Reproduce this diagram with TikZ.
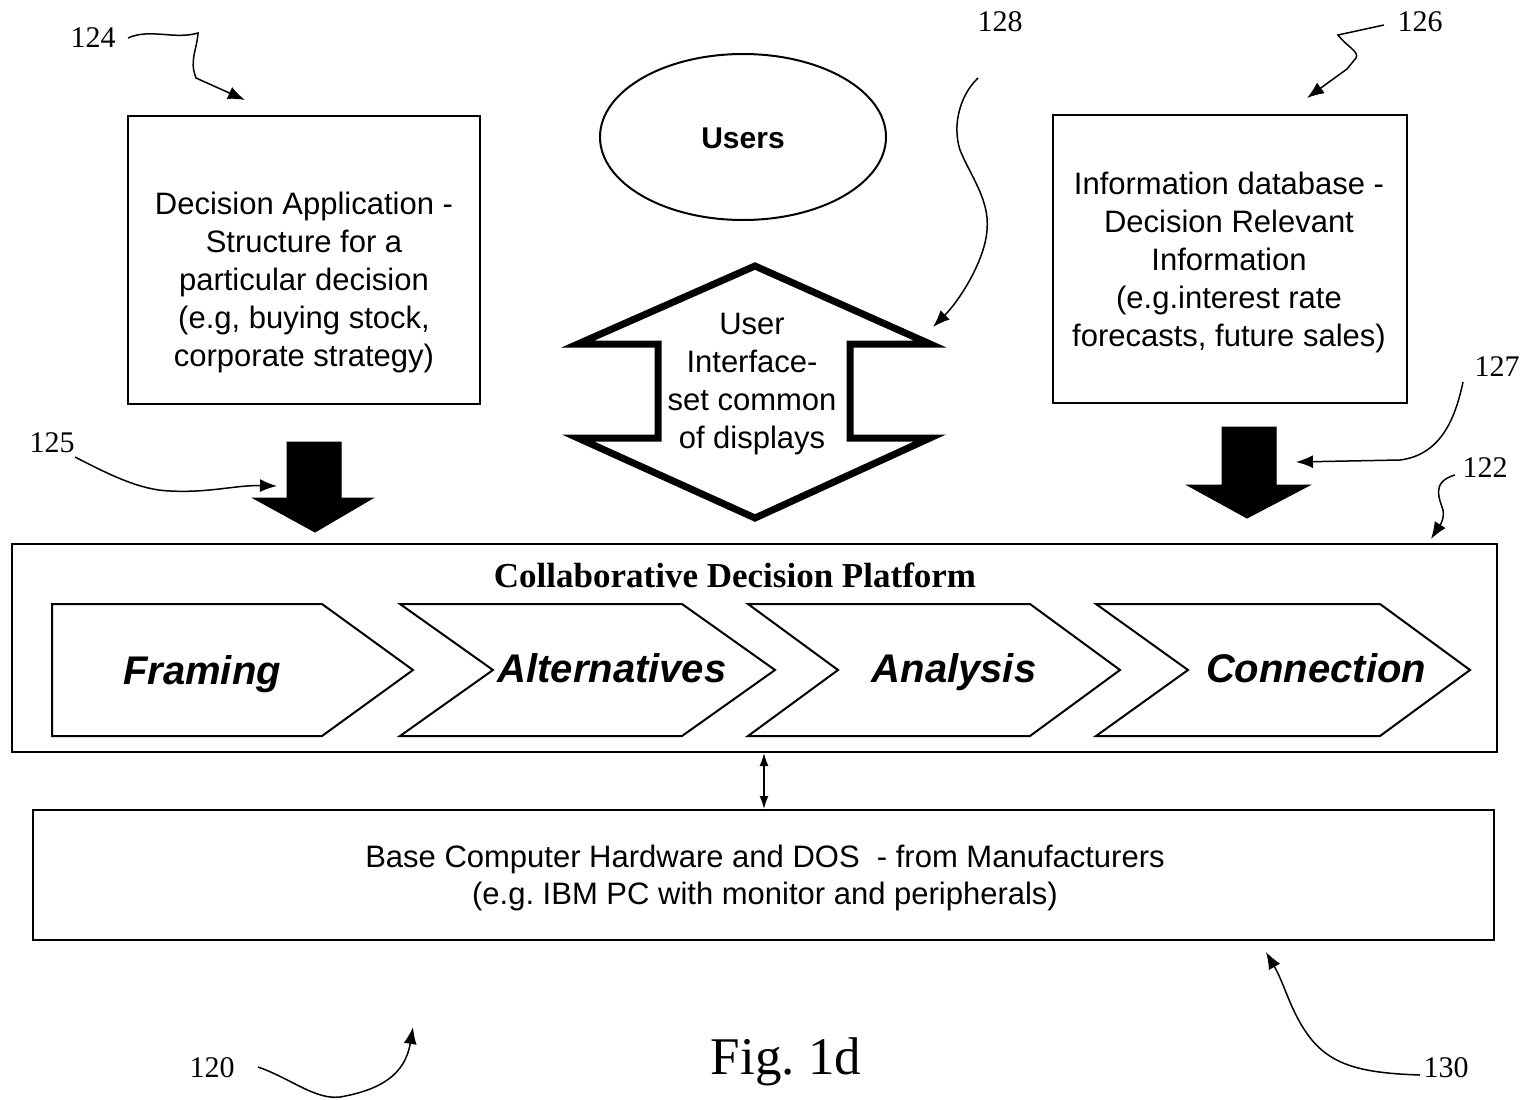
\documentclass[tikz,border=0pt]{standalone}
\usepackage{fontspec}
\setmainfont{Liberation Serif}
\newfontfamily\arial{Liberation Sans}
\usetikzlibrary{arrows.meta,shapes.geometric}
\frenchspacing
\begin{document}
\begin{tikzpicture}[x=1pt,y=-1pt,
  box/.style={draw,line width=2pt,inner sep=0pt},
  btext/.style={font=\arial\fontsize{31}{38}\selectfont,align=center,inner sep=0pt},
  chev/.style={draw,line width=2pt,line join=miter},
  ctext/.style={font=\arial\bfseries\itshape\fontsize{40}{48}\selectfont,inner sep=0pt,anchor=base},
  blockarrow/.style={fill=black,draw=black,line width=1pt,line join=miter},
  num/.style={font=\fontsize{30}{34}\selectfont,inner sep=0pt},
  lead/.style={line width=1.5pt,-{Latex[length=17pt,width=13pt]}},
]
\useasboundingbox (0,0) rectangle (1526,1100);

% top boxes
\node[box,minimum width=352pt,minimum height=288pt] (app) at (304,260) {};
\node[btext] (apptext) at (304,282) {Decision Application -\\Structure for a\\particular decision\\(e.g, buying stock,\\corporate strategy)};
\node[box,minimum width=354pt,minimum height=288pt] (info) at (1230,259) {};
\node[btext] (infotext) at (1229,262) {Information database -\\Decision Relevant\\Information\\(e.g.interest rate\\forecasts, future sales)};

% users
\node[draw,line width=2pt,ellipse,minimum width=286pt,minimum height=166pt,inner sep=0pt] (users) at (743,137) {};
\node[font=\arial\bfseries\fontsize{30}{36}\selectfont,inner sep=0pt] (userstext) at (743,138) {Users};

% user interface double arrow
\draw[line width=7pt,line join=miter,miter limit=20] (755,266) -- (930,344) -- (850,344) -- (850,438) -- (930,438) -- (755,518) -- (578,438) -- (658,438) -- (658,344) -- (578,344) -- cycle;
\node[btext] (uitext) at (752,384) {User\\Interface-\\set common\\of displays};

% block arrows
\draw[blockarrow] (287,442) -- (341,442) -- (341,498) -- (373,498) -- (315,532) -- (253,498) -- (287,498) -- cycle;
\draw[blockarrow] (1222,427) -- (1276,427) -- (1276,485) -- (1310,485) -- (1247,518) -- (1187,485) -- (1222,485) -- cycle;

% platform
\node[box,minimum width=1485pt,minimum height=208pt] (plat) at (754.5,648) {};
\node[font=\bfseries\fontsize{35}{40}\selectfont,inner sep=0pt] (plattitle) at (735,575) {Collaborative Decision Platform};
\draw[chev] (52,604) -- (322,604) -- (413,670) -- (322,736) -- (52,736) -- cycle;
\draw[chev] (400,604) -- (682,604) -- (775,670) -- (682,736) -- (400,736) -- (493,670) -- cycle;
\draw[chev] (748,604) -- (1030,604) -- (1120,670) -- (1030,736) -- (748,736) -- (838,670) -- cycle;
\draw[chev] (1096,604) -- (1380,604) -- (1470,670) -- (1380,736) -- (1096,736) -- (1188,670) -- cycle;
\node[ctext] (framing) at (202,684) {Framing};
\node[ctext] (alts) at (612,682) {Alternatives};
\node[ctext] (analysis) at (954,682) {Analysis};
\node[ctext] (connection) at (1316,682) {Connection};

% base
\node[box,minimum width=1461pt,minimum height=130pt] (base) at (763.5,875) {};
\node[font=\arial\fontsize{31}{37}\selectfont,align=center,inner sep=0pt] (basetext) at (765,878) {Base Computer Hardware and DOS\ \ - from Manufacturers\\(e.g. IBM PC with monitor and peripherals)};
\coordinate (uix) at (764,0);
\draw[line width=1.5pt,{Latex[length=13pt,width=9pt]}-{Latex[length=13pt,width=9pt]}] (plat.south -| uix) -- (base.north -| uix);

% reference numbers
\node[num] (n124) at (93,38) {124};
\node[num] (n128) at (1000,22) {128};
\node[num] (n126) at (1420,22) {126};
\node[num] (n127) at (1497,367) {127};
\node[num] (n122) at (1485,468) {122};
\node[num] (n125) at (52,443) {125};
\node[num] (n120) at (212,1068) {120};
\node[num] (n130) at (1446,1068) {130};
\node[font=\fontsize{53}{60}\selectfont,inner sep=0pt] (fig) at (786,1062) {Fig. 1d};

% leaders
\coordinate (s124) at (128,38);
\coordinate (t124) at (245,100);
\draw[lead] (s124) .. controls (150,28) and (175,40) .. (198,33) .. controls (197,50) and (189,60) .. (196,78) -- (t124);

\coordinate (s128) at (978,78);
\coordinate (t128) at (933,327);
\draw[lead] (s128) .. controls (960,95) and (952,125) .. (960,150) .. controls (970,175) and (990,200) .. (987,230) .. controls (985,260) and (960,300) .. (t128);

\coordinate (s126) at (1384,25);
\coordinate (t126) at (1307,98);
\draw[lead] (s126) -- (1338,35) .. controls (1345,45) and (1360,52) .. (1356,58) -- (1347,69) -- (t126);

\coordinate (s127) at (1463,382);
\coordinate (t127) at (1296,462);
\draw[lead] (s127) .. controls (1455,420) and (1440,455) .. (1400,460) -- (t127);

\coordinate (s122) at (1455,475);
\coordinate (t122) at (1431,539);
\draw[lead] (s122) .. controls (1430,482) and (1440,500) .. (1443,510) .. controls (1445,520) and (1438,528) .. (t122);

\coordinate (s125) at (75,457);
\coordinate (t125) at (277,486);
\draw[lead] (s125) .. controls (110,475) and (140,490) .. (170,491) .. controls (210,493) and (235,485) .. (t125);

\coordinate (s120) at (258,1067);
\coordinate (t120) at (413,1027);
\draw[lead] (s120) .. controls (290,1078) and (315,1100) .. (340,1097) .. controls (380,1090) and (405,1075) .. (t120);

\coordinate (s130) at (1420,1075);
\coordinate (t130) at (1266,952);
\draw[lead] (s130) .. controls (1360,1073) and (1330,1065) .. (1308,1035) .. controls (1290,1010) and (1285,985) .. (t130);
\end{tikzpicture}
\end{document}
